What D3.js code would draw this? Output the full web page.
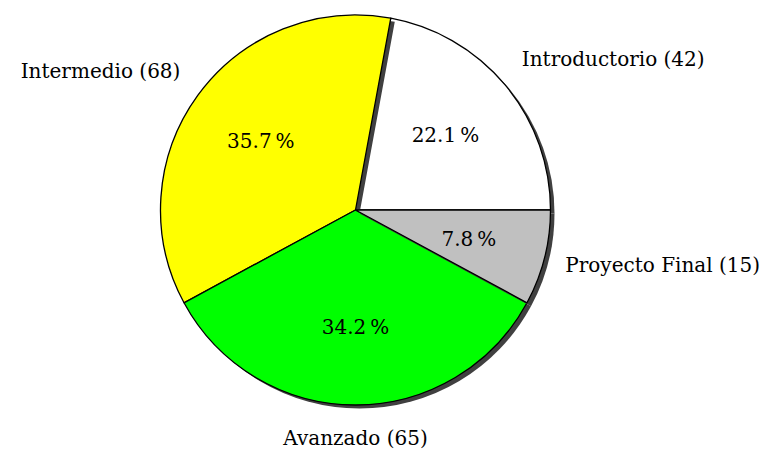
<!DOCTYPE html>
<html lang="en">
<head>
  <meta charset="UTF-8">
  <script src="https://d3js.org/d3.v7.min.js"></script>
  <title>Pie</title>
  <style>
    body { margin: 0; background: #fff; }
    text { fill: #000; }
  </style>
</head>
<body>
  <div id="chart"></div>
  <script>
    // Data
    const categories = ["Introductorio", "Intermedio", "Avanzado", "Proyecto Final"];
    const counts = [42, 68, 65, 15];
    const percents = ["22.1", "35.7", "34.2", "7.8"];
    const colors = ["#ffffff", "#ffff00", "#00ff00", "#c0c0c0"];

    const width = 771;
    const height = 449;
    const cx = 355.5, cy = 210, radius = 195;
    const shadow = { dx: 4, dy: 3.5 };
    const fontFamily = "'DejaVu Serif', serif";

    const svg = d3.select("#chart")
      .append("svg")
      .attr("width", width)
      .attr("height", height);

    const data = categories.map((c, i) => ({ name: c, value: counts[i], pct: percents[i], color: colors[i] }));

    // counter-clockwise from 3 o'clock
    const pie = d3.pie()
      .sort(null)
      .value(d => d.value)
      .startAngle(Math.PI / 2)
      .endAngle(Math.PI / 2 - 2 * Math.PI);

    const arc = d3.arc().innerRadius(0).outerRadius(radius);
    const arcs = pie(data);

    const g = svg.append("g").attr("transform", `translate(${cx},${cy})`);

    // each slice draws its own shadow first
    arcs.forEach(a => {
      g.append("path")
        .attr("d", arc(a))
        .attr("transform", `translate(${shadow.dx},${shadow.dy})`)
        .attr("fill", "#404040");
      g.append("path")
        .attr("d", arc(a))
        .attr("fill", a.data.color)
        .attr("stroke", "#000")
        .attr("stroke-width", 1.3)
        .attr("stroke-linejoin", "round");
    });

    const mid = a => (a.startAngle + a.endAngle) / 2;

    // percentages inside
    g.selectAll("text.pct")
      .data(arcs)
      .enter()
      .append("text")
      .attr("class", "pct")
      .attr("x", a => Math.sin(mid(a)) * radius * 0.6)
      .attr("y", a => -Math.cos(mid(a)) * radius * 0.6)
      .attr("text-anchor", "middle")
      .attr("dominant-baseline", "central")
      .attr("font-family", fontFamily)
      .style("font-size", "20px")
      .text(a => `${a.data.pct}\u2009%`);

    // outer labels
    const lr = radius * 1.11;
    g.selectAll("text.lbl")
      .data(arcs)
      .enter()
      .append("text")
      .attr("class", "lbl")
      .attr("x", a => Math.sin(mid(a)) * lr)
      .attr("y", a => {
        const s = Math.cos(mid(a));
        const y = -s * lr;
        if (s > 0.3) return y - 12;
        if (s < -0.3) return y + 12;
        return y + 2;
      })
      .attr("text-anchor", a => {
        const c = Math.sin(mid(a));
        return c > 0.3 ? "start" : (c < -0.3 ? "end" : "middle");
      })
      .attr("dominant-baseline", "central")
      .attr("font-family", fontFamily)
      .style("font-size", "20px")
      .text(a => `${a.data.name} (${a.data.value})`);
  </script>
</body>
</html>
